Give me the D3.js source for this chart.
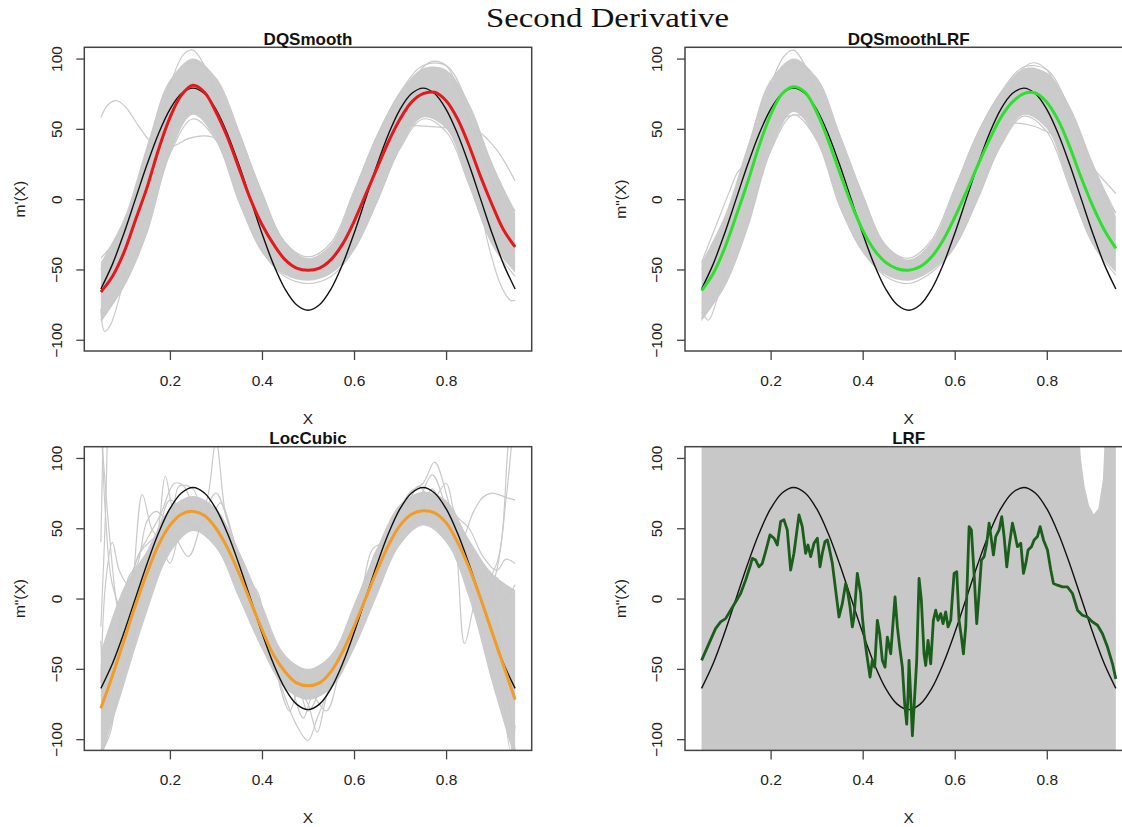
<!DOCTYPE html>
<html><head><meta charset="utf-8">
<script src="https://cdn.jsdelivr.net/npm/d3@7"></script>
<style>body{margin:0;background:#fff} svg{display:block}</style>
</head><body>
<svg id="chart" width="1122" height="827"></svg>
<script>
// ---------------- DATA ----------------
const mainTitle = "Second Derivative";
const panelTitles = ["DQSmooth", "DQSmoothLRF", "LocCubic", "LRF"];
const yLabels = ["m'(X)", "m\"(X)", "m\"(X)", "m\"(X)"];
const xTicks = [0.2, 0.4, 0.6, 0.8];
const yTicks = [-100, -50, 0, 50, 100];

const xGrid = [0.05,0.075,0.1,0.125,0.15,0.175,0.2,0.225,0.25,0.275,0.3,0.325,0.35,0.375,0.4,0.425,0.45,0.475,0.5,
               0.525,0.55,0.575,0.6,0.625,0.65,0.675,0.7,0.725,0.75,0.775,0.8,0.825,0.85,0.875,0.9,0.925,0.95];
const truth = [-63.9,-46.4,-24.4,0,24.4,46.4,63.9,75.1,79,75.1,63.9,46.4,24.4,0,-24.4,-46.4,-63.9,-75.1,-79,
               -75.1,-63.9,-46.4,-24.4,0,24.4,46.4,63.9,75.1,79,75.1,63.9,46.4,24.4,0,-24.4,-46.4,-63.9];
const dqMean = [-66,-55,-38,-15,8,35,58,74,81,76,62,44,22,0,-18,-32,-43,-49,-50.5,
                -49,-43,-32,-16,3,22,41,57,69,75,76,70,57,38,16,-4,-22,-34];
const dqlMean = [-65,-53,-35,-12,12,38,60,75,80,76,62,42,19,-3,-22,-36,-45,-49.5,-50.5,
                 -48,-41,-29,-13,5,24,42,58,69,75,75.5,69,56,37,15,-5,-22,-35];
const locMean = [-78,-55,-30,-5,18,38,52,60,62,59,50,36,18,-2,-22,-40,-52,-60,-62,
                 -60,-52,-38,-20,0,20,38,52,60,62.5,61,54,40,22,0,-24,-48,-72];

const bandX = [0.05,0.1,0.15,0.2,0.25,0.3,0.35,0.4,0.45,0.5,0.55,0.6,0.65,0.7,0.75,0.8,0.85,0.9,0.95];
const dqLower  = [-88,-62,-24,32,60,42,-2,-38,-54,-58,-53,-36,-2,36,58,50,10,-32,-52];
const dqUpper  = [-45,-14,38,84,100,86,48,6,-30,-42,-32,6,46,76,93,92,68,26,-10];
const dqlLower = [-87,-62,-20,34,62,42,-5,-38,-54,-58,-51,-34,0,38,60,50,8,-32,-52];
const dqlUpper = [-45,-12,38,84,100,86,46,4,-32,-43,-30,8,48,76,93,90,66,26,-12];
const locLower = [-115,-62,-10,32,48,36,0,-36,-64,-72,-64,-36,2,38,52,40,0,-60,-115];
const locUpper = [-38,8,34,64,73,64,34,-4,-40,-50,-40,-4,36,67,76,70,42,18,6];

const dqOutliers = [
  [[0.05,58],[0.065,67],[0.085,70],[0.105,65],[0.13,53],[0.155,42],[0.18,36],[0.21,38],[0.24,43],[0.275,45],[0.3,43],[0.33,32],[0.36,15],[0.39,-5]],
  [[0.65,28],[0.68,45],[0.71,52],[0.75,52],[0.79,51],[0.83,50],[0.87,48],[0.91,35],[0.95,13]],
  [[0.05,-78],[0.058,-94],[0.07,-90],[0.09,-70],[0.11,-40],[0.13,-5]],
  [[0.82,60],[0.86,20],[0.89,-30],[0.92,-62],[0.94,-72],[0.95,-72]],
  [[0.17,30],[0.2,80],[0.23,103],[0.25,106],[0.27,98],[0.3,75],[0.33,40]],
  [[0.7,60],[0.74,90],[0.77,98],[0.8,95],[0.83,75],[0.87,40],[0.92,0],[0.95,-8]],
  [[0.05,-42],[0.08,-30],[0.11,-10],[0.14,15]],
  [[0.17,20],[0.2,50],[0.23,60],[0.26,62],[0.29,58],[0.32,40]],
  [[0.05,-50],[0.1,-20],[0.15,34],[0.2,84],[0.25,97],[0.3,86],[0.35,48],[0.4,4],[0.45,-31],[0.5,-41],[0.55,-31],[0.6,6],[0.65,45],[0.7,76],[0.75,95],[0.8,95],[0.85,66],[0.9,24],[0.95,-9]],
  [[0.05,-86],[0.1,-62],[0.15,-24],[0.2,32],[0.25,57],[0.3,42],[0.35,-2],[0.4,-37],[0.45,-55],[0.5,-60],[0.55,-55],[0.6,-36],[0.65,-2],[0.7,36],[0.75,57],[0.8,48],[0.85,10],[0.9,-32],[0.95,-55]]
];
const dqlOutliers = [
  [[0.05,-45],[0.08,-20],[0.11,5],[0.13,20],[0.15,25]],
  [[0.65,30],[0.69,50],[0.73,54],[0.77,52],[0.8,48],[0.85,40],[0.9,22],[0.95,4]],
  [[0.17,30],[0.2,80],[0.23,102],[0.25,106],[0.27,98],[0.3,75],[0.33,40]],
  [[0.7,62],[0.74,90],[0.77,97],[0.8,92],[0.84,65],[0.88,35],[0.92,5],[0.95,-10]],
  [[0.05,-80],[0.065,-86],[0.08,-75],[0.1,-50],[0.12,-20]],
  [[0.17,15],[0.2,50],[0.23,58],[0.26,60],[0.29,57],[0.32,38]],
  [[0.05,-50],[0.1,-18],[0.15,34],[0.2,84],[0.25,97],[0.3,86],[0.35,46],[0.4,3],[0.45,-33],[0.5,-42],[0.55,-29],[0.6,8],[0.65,47],[0.7,76],[0.75,94],[0.8,92],[0.85,64],[0.9,24],[0.95,-10]],
  [[0.05,-85],[0.1,-62],[0.15,-20],[0.2,34],[0.25,60],[0.3,42],[0.35,-5],[0.4,-37],[0.45,-55],[0.5,-60],[0.55,-52],[0.6,-34],[0.65,0],[0.7,38],[0.75,59],[0.8,48],[0.85,8],[0.9,-32],[0.95,-54]]
];
const locOutliers = [
  [[0.05,140],[0.06,60],[0.075,10],[0.1,-10],[0.125,0],[0.15,20],[0.175,50],[0.19,87],[0.21,60],[0.23,55],[0.25,65]],
  [[0.05,120],[0.055,100],[0.07,40],[0.085,-5],[0.1,-25],[0.115,-5],[0.14,74],[0.16,50],[0.18,40],[0.2,25],[0.22,45],[0.24,55]],
  [[0.05,-60],[0.06,10],[0.075,40],[0.09,20],[0.11,10],[0.13,30],[0.155,45],[0.18,60],[0.21,82],[0.23,80],[0.26,60],[0.28,70],[0.3,112],[0.32,62],[0.34,40],[0.36,10]],
  [[0.05,-110],[0.07,-96],[0.09,-60],[0.12,-30],[0.14,10],[0.17,40],[0.2,48],[0.24,30],[0.27,55],[0.3,75],[0.33,50],[0.36,20]],
  [[0.42,-40],[0.45,-70],[0.475,-90],[0.5,-101],[0.52,-85],[0.55,-60],[0.575,-30]],
  [[0.43,-50],[0.46,-80],[0.48,-65],[0.5,-75],[0.52,-95],[0.54,-70],[0.56,-55]],
  [[0.68,50],[0.72,75],[0.75,82],[0.775,97],[0.8,75],[0.82,45],[0.84,-32],[0.86,-5],[0.88,20],[0.9,5],[0.92,-40],[0.95,-108]],
  [[0.7,55],[0.74,70],[0.77,88],[0.8,65],[0.83,40],[0.86,62],[0.88,72],[0.9,75],[0.93,72],[0.95,70]],
  [[0.84,20],[0.87,0],[0.9,10],[0.92,40],[0.935,110],[0.95,150]],
  [[0.85,30],[0.88,10],[0.91,25],[0.93,70],[0.945,120]],
  [[0.6,-20],[0.62,10],[0.64,35],[0.66,38],[0.68,30],[0.7,55]],
  [[0.05,40],[0.055,120]],
  [[0.05,-20],[0.06,60],[0.065,130]],
  [[0.08,-40],[0.1,-10],[0.12,20],[0.14,35],[0.17,45],[0.2,70],[0.23,62],[0.26,50],[0.29,65],[0.31,55],[0.34,25]],
  [[0.09,-20],[0.11,15],[0.13,25],[0.15,55],[0.17,62],[0.2,55],[0.22,80],[0.25,78],[0.28,52],[0.31,68],[0.34,38]],
  [[0.62,0],[0.65,35],[0.68,42],[0.71,60],[0.74,80],[0.77,70],[0.8,82],[0.82,60],[0.85,50],[0.88,30],[0.91,20],[0.93,28],[0.95,25]],
  [[0.65,15],[0.68,38],[0.71,50],[0.74,58],[0.77,78],[0.8,55],[0.83,45],[0.86,18],[0.89,-10],[0.91,15],[0.93,0],[0.95,10]],
  [[0.36,15],[0.39,5],[0.41,-20],[0.44,-40],[0.47,-50],[0.5,-80],[0.53,-62],[0.56,-40],[0.59,-30],[0.62,-5]],
  [[0.4,-10],[0.43,-35],[0.46,-58],[0.49,-85],[0.51,-70],[0.54,-80],[0.57,-50],[0.6,-20]],
  [[0.05,-30],[0.06,-80],[0.07,-60],[0.09,-20],[0.11,-5]],
  [[0.9,-20],[0.92,-60],[0.94,-108],[0.95,-90]]
];

const lrfBandX     = [0.05,0.868,0.874,0.882,0.892,0.902,0.912,0.922,0.928,0.95];
const lrfBandLower = [-130,-130,-130,-130,-130,-130,-130,-130,-130,-130];
const lrfBandUpper = [130,130,100,80,66,60,64,85,130,130];

const lrfX = [0.05,0.066,0.0804,0.0913,0.1022,0.1131,0.1239,0.1348,0.1457,0.1551,0.1602,0.1674,0.1747,0.1819,0.1891,0.1986,
  0.2073,0.2145,0.2218,0.229,0.2362,0.2435,0.2507,0.2616,0.2688,0.2761,0.2812,0.287,0.2942,0.3015,0.3073,0.3123,0.3181,
  0.3232,0.3268,0.3341,0.3413,0.3486,0.3558,0.3631,0.3667,0.3725,0.3775,0.3812,0.3884,0.3957,0.3993,0.4029,0.4087,0.416,
  0.421,0.4261,0.4319,0.437,0.4428,0.4486,0.4536,0.4609,0.4703,0.4754,0.4804,0.4862,0.4913,0.4957,0.4986,0.5007,0.5044,
  0.508,0.5116,0.5174,0.5225,0.5275,0.5333,0.537,0.542,0.5478,0.5536,0.5587,0.5638,0.5696,0.5746,0.5804,0.5855,0.5913,
  0.5986,0.6044,0.6094,0.6145,0.6189,0.6239,0.6312,0.6362,0.642,0.6478,0.6529,0.658,0.6638,0.6696,0.6747,0.6797,0.6841,
  0.6891,0.6964,0.7022,0.7073,0.7131,0.7181,0.7254,0.7304,0.7362,0.7435,0.7493,0.7544,0.7594,0.7667,0.7725,0.7797,0.7855,
  0.7928,0.8015,0.8087,0.8145,0.8232,0.8341,0.8449,0.8558,0.8667,0.8775,0.8884,0.8993,0.9102,0.921,0.9319,0.9428,0.95];
const lrfY = [-44,-32.1,-21.4,-16.6,-14.3,-8.3,-2.4,3.6,13.1,22.6,28.6,27.4,22.6,25,33.4,45.3,
  42.9,38.1,54.8,56,48.8,20.3,32.2,59.5,51.2,32.2,38.1,29.8,39.3,42.9,22.6,32.2,40.5,
  41.7,36.9,25,6,-13.1,-3.6,10.7,6,-5.9,-20.2,-13.1,17.9,3.6,-13.1,-25,-39.3,-55.9,
  -44,-48.8,-15.5,-25,-44,-48.8,-27.4,-39.3,1.2,-20.2,-34.5,-48.8,-75,-89.3,-67.8,-44,-70.2,
  -97.6,-77.4,-44,14.3,-1.2,-39.3,-47.6,-29.7,-46.4,-15.5,-8.3,-15.5,-10.7,-17.8,-9.5,-20.2,-15.5,
  17.9,19.1,-15.5,-27.4,-39.3,-20.2,51.2,48.8,17.9,-17.8,3.6,27.4,29.8,39.3,53.6,41.7,31,
  44.1,48.8,58.3,44.1,22.6,36.9,53.6,46.4,36.9,39.3,17.9,25,34.5,36.9,41.7,44.1,51.2,
  41.7,34.5,20.3,10.7,9.5,8.3,8.3,3.6,-8.3,-11.9,-13.1,-16.6,-19,-25,-34.5,-46.4,-57.1];

// ---------------- LAYOUT ----------------
const svg = d3.select("#chart");
const plotW = 447.4, plotH = 303.7;
const lefts = [84.3, 685], tops = [47.3, 446.7];
const FONT = "'Liberation Sans', Arial, Helvetica, sans-serif";

svg.append("text").attr("x", 607.5).attr("y", 27).attr("text-anchor", "middle")
  .attr("font-family", "'Liberation Serif', 'DejaVu Serif', serif").attr("font-size", 28)
  .attr("textLength", 243).attr("lengthAdjust", "spacingAndGlyphs").attr("fill", "#111").text(mainTitle);

const panels = [
  {title: panelTitles[0], ylab: yLabels[0], mean: dqMean, color: "#e5191c", lower: dqLower, upper: dqUpper, outliers: dqOutliers},
  {title: panelTitles[1], ylab: yLabels[1], mean: dqlMean, color: "#2ee02e", lower: dqlLower, upper: dqlUpper, outliers: dqlOutliers},
  {title: panelTitles[2], ylab: yLabels[2], mean: locMean, color: "#f29b26", lower: locLower, upper: locUpper, outliers: locOutliers},
  {title: panelTitles[3], ylab: yLabels[3], lrf: true, color: "#1b5e1b"}
];

panels.forEach((p, i) => {
  const L = lefts[i % 2], T = tops[Math.floor(i / 2)];
  const x = d3.scaleLinear().domain([0.014, 0.986]).range([L, L + plotW]);
  const y = d3.scaleLinear().domain([-108, 108]).range([T + plotH, T]);
  const g = svg.append("g");
  const clipId = "clip" + i;
  svg.append("clipPath").attr("id", clipId).append("rect")
    .attr("x", L).attr("y", T).attr("width", plotW).attr("height", plotH);
  const pg = g.append("g").attr("clip-path", `url(#${clipId})`);
  const smooth = d3.line().x(d => x(d[0])).y(d => y(d[1])).curve(d3.curveCatmullRom.alpha(0.5));

  if (p.lrf) {
    const area = d3.area().x((d, k) => x(lrfBandX[k])).y0((d, k) => y(lrfBandLower[k])).y1((d, k) => y(lrfBandUpper[k]));
    pg.append("path").datum(lrfBandX).attr("d", area).attr("fill", "#c8c8c8");
  } else {
    const area = d3.area().x((d, k) => x(bandX[k])).y0((d, k) => y(p.lower[k])).y1((d, k) => y(p.upper[k]))
      .curve(d3.curveCatmullRom.alpha(0.5));
    pg.append("path").datum(bandX).attr("d", area).attr("fill", "#cbcbcb");
    p.outliers.forEach(o => {
      pg.append("path").datum(o).attr("d", smooth).attr("fill", "none")
        .attr("stroke", "#c9c9c9").attr("stroke-width", 1.2);
    });
  }
  // truth
  pg.append("path").datum(xGrid.map((v, k) => [v, truth[k]])).attr("d", smooth)
    .attr("fill", "none").attr("stroke", "#111").attr("stroke-width", 1.4);
  // mean
  if (p.lrf) {
    const line = d3.line().x(d => x(d[0])).y(d => y(d[1]));
    pg.append("path").datum(lrfX.map((v, k) => [v, lrfY[k]])).attr("d", line)
      .attr("fill", "none").attr("stroke", p.color).attr("stroke-width", 2.8).attr("stroke-linejoin", "round");
  } else {
    pg.append("path").datum(xGrid.map((v, k) => [v, p.mean[k]])).attr("d", smooth)
      .attr("fill", "none").attr("stroke", p.color).attr("stroke-width", 3);
  }

  // box
  g.append("rect").attr("x", L).attr("y", T).attr("width", plotW).attr("height", plotH)
    .attr("fill", "none").attr("stroke", "#444").attr("stroke-width", 1.5);

  // axes
  const ax = g.append("g").attr("transform", `translate(0,${T + plotH})`)
    .call(d3.axisBottom(x).tickValues(xTicks).tickSize(9).tickFormat(d3.format(".1f")));
  const ay = g.append("g").attr("transform", `translate(${L},0)`)
    .call(d3.axisLeft(y).tickValues(yTicks).tickSize(8).tickFormat(d3.format("d")));
  [ax, ay].forEach(a => {
    a.select(".domain").remove();
    a.selectAll("line").attr("stroke", "#444").attr("stroke-width", 1.3);
    a.selectAll("text").attr("font-family", FONT).attr("font-size", 15.5).attr("fill", "#222");
  });
  ax.selectAll("text").attr("y", 35).attr("dy", 0);
  ay.selectAll("text").attr("x", null).attr("dy", 0).attr("text-anchor", "middle")
    .attr("transform", "translate(-22.8,0) rotate(-90)");

  // labels
  g.append("text").attr("x", L + plotW / 2).attr("y", T - 2.5).attr("text-anchor", "middle")
    .attr("font-family", FONT).attr("font-weight", "bold").attr("font-size", 17).attr("fill", "#111").text(p.title);
  g.append("text").attr("x", L + plotW / 2).attr("y", T + plotH + 73).attr("text-anchor", "middle")
    .attr("font-family", FONT).attr("font-size", 15.5).attr("fill", "#222").text("X");
  g.append("text").attr("transform", `translate(${L - 59},${T + plotH / 2}) rotate(-90)`).attr("text-anchor", "middle")
    .attr("font-family", FONT).attr("font-size", 15.5).attr("fill", "#222").text(p.ylab);
});
</script>
</body></html>
